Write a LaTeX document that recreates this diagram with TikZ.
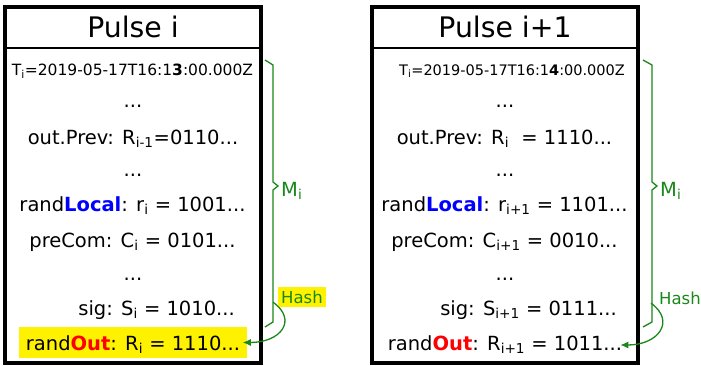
\documentclass[tikz,border=0pt]{standalone}
\usepackage{fontspec}
\setmainfont{DejaVu Sans}
\usetikzlibrary{calc,arrows.meta}
\definecolor{hashgreen}{RGB}{25,135,25}
\tikzset{
  row/.style={anchor=base, inner sep=0pt, font=\fontsize{19.5}{23}\selectfont},
  time row/.style={row, font=\fontsize{15.5}{18}\selectfont},
  title/.style={anchor=base, inner sep=0pt, font=\fontsize{28.3}{33}\selectfont},
  pulsebox/.style={line width=4.5pt},
  brace/.style={hashgreen, line width=1.3pt},
  hash/.style={anchor=base, inner ysep=0pt, inner xsep=3pt, text height=16pt, text depth=4pt, text=hashgreen, font=\fontsize{16.5}{19}\selectfont},
  hasharrow/.style={hashgreen, line width=1.3pt, -{Latex[length=8pt,width=7pt]}}
}
\begin{document}
\begin{tikzpicture}[x=1pt,y=1pt]
\useasboundingbox (0,0) rectangle (701,365);

% pulse i
\draw[pulsebox] (5,2) rectangle (261,358);
\draw[line width=1.2pt] (5,317) -- (261,317);
\node[title] (PL) at (133,327) {Pulse i};
\node[time row] (TL) at (132.5,290) {T\textsubscript{i}=2019-05-17T16:1\textbf{3}:00.000Z};
\node[row] (d1L) at (133,258) {...};
\node[row] (prevL) at (133,221) {out.Prev: R\textsubscript{i-1}=0110...};
\node[row] (d2L) at (133,189) {...};
\node[row] (localL) at (132.5,154) {rand\textcolor{blue}{\textbf{Local}}: r\textsubscript{i} = 1001...};
\node[row] (comL) at (132.5,118) {preCom: C\textsubscript{i} = 0101...};
\node[row] (d3L) at (133,85) {...};
\node[row, anchor=base east] (sigL) at (235,50) {sig: S\textsubscript{i} = 1010...};
\node[row, fill=yellow, inner xsep=6.5pt, text height=23pt, text depth=8pt] (outL) at (133,15) {rand\textcolor{red}{\textbf{Out}}: R\textsubscript{i} = 1110...};

\draw[brace] (265,305) -- (273,300) -- (273,183) -- (278,179) -- (273,175) -- (273,43) -- (265,38);
\node[row, anchor=base west, text=hashgreen] (ML) at (281,169) {M\textsubscript{i}};
\node[hash, anchor=base west, fill=yellow] (hashL) at (278,62) {Hash};
\draw[hasharrow] ([xshift=-5pt,yshift=5pt]hashL.south west) .. controls +(25,-18) and +(38,0) .. ([xshift=-4pt]outL.east);

% pulse i+1
\draw[pulsebox] (372,2) rectangle (638,358);
\draw[line width=1.2pt] (372,317) -- (638,317);
\node[title] (PR) at (505,327) {Pulse i+1};
\node[time row, font=\fontsize{14.5}{17}\selectfont] (TR) at (512,290) {T\textsubscript{i}=2019-05-17T16:1\textbf{4}:00.000Z};
\node[row] (d1R) at (505,258) {...};
\node[row] (prevR) at (504.5,221) {out.Prev: R\textsubscript{i}\ \ = 1110...};
\node[row] (d2R) at (505,189) {...};
\node[row] (localR) at (504.5,154) {rand\textcolor{blue}{\textbf{Local}}: r\textsubscript{i+1} = 1101...};
\node[row] (comR) at (504.5,118) {preCom: C\textsubscript{i+1} = 0010...};
\node[row] (d3R) at (505,85) {...};
\node[row, anchor=base east] (sigR) at (617,50) {sig: S\textsubscript{i+1} = 0111...};
\node[row] (outR) at (505,15) {rand\textcolor{red}{\textbf{Out}}: R\textsubscript{i+1} = 1011...};

\draw[brace] (643,305) -- (652,300) -- (652,183) -- (657,179) -- (652,175) -- (652,43) -- (643,38);
\node[row, anchor=base west, text=hashgreen] (MR) at (660,169) {M\textsubscript{i}};
\node[hash, anchor=base west] (hashR) at (656,61) {Hash};
\draw[hasharrow] ([xshift=-5pt,yshift=5pt]hashR.south west) .. controls +(25,-18) and +(38,0) .. ([xshift=-2pt,yshift=5pt]outR.base east);
\end{tikzpicture}
\end{document}
